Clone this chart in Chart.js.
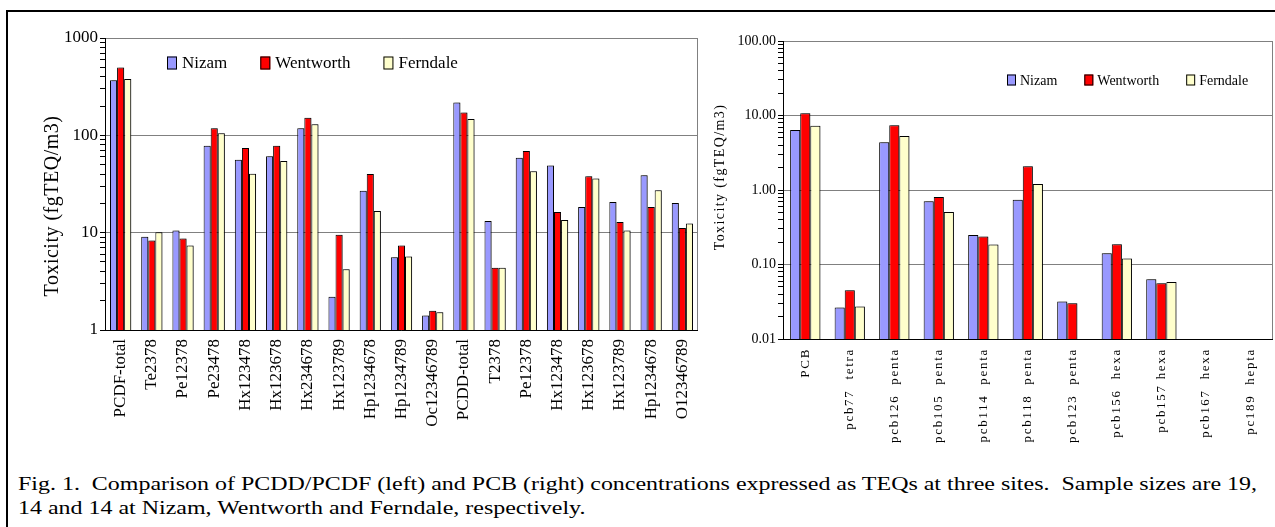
<!DOCTYPE html>
<html>
<head>
<meta charset="utf-8">
<script src="https://cdn.jsdelivr.net/npm/chart.js@4.4.1/dist/chart.umd.min.js"></script>
<style>
  html, body { margin:0; padding:0; background:#fff; width:1275px; height:527px; overflow:hidden; }
  #frame { position:absolute; left:6px; top:10px; width:1300px; height:600px; border-left:2px solid #000; border-top:2px solid #000; }
  #leftWrap { position:absolute; left:0; top:0; width:712px; height:450px; }
  #rightWrap { position:absolute; left:700px; top:0; width:575px; height:450px; }
  #caption { position:absolute; left:18px; top:472px; font-family:"Liberation Serif", "Times New Roman", Times, "DejaVu Serif", serif; font-size:18px; line-height:24px; color:#000; white-space:nowrap; transform-origin:0 0; }
</style>
</head>
<body>
<div id="frame"></div>
<div id="leftWrap"><canvas id="left"></canvas></div>
<div id="rightWrap"><canvas id="right"></canvas></div>
<div id="caption"><span id="capLine1">Fig. 1.&nbsp; Comparison of PCDD/PCDF (left) and PCB (right) concentrations expressed as TEQs at three sites.&nbsp; Sample sizes are 19,</span><br><span>14 and 14 at Nizam, Wentworth and Ferndale, respectively.</span></div>
<script>
// ---------- DATA ----------
const seriesNames = ["Nizam", "Wentworth", "Ferndale"];

const leftCategories = ["PCDF-total","Te2378","Pe12378","Pe23478","Hx123478","Hx123678","Hx234678","Hx123789","Hp1234678","Hp1234789","Oc12346789","PCDD-total","T2378","Pe12378","Hx123478","Hx123678","Hx123789","Hp1234678","O12346789"];
const leftNizam     = [367, 9.1, 10.5, 78, 56, 61, 118, 2.2, 27, 5.6, 1.41, 217, 13.2, 59, 49, 18.4, 20.7, 39, 20.2];
const leftWentworth = [497, 8.3, 8.7, 118, 74, 78, 152, 9.5, 40, 7.4, 1.58, 172, 4.35, 69, 16.3, 38, 12.9, 18.4, 11.2];
const leftFerndale  = [380, 10.1, 7.4, 105, 40.4, 54.6, 130, 4.2, 16.7, 5.7, 1.52, 147, 4.35, 42.7, 13.5, 36, 10.5, 27.2, 12.4];
const leftTicks = [1, 10, 100, 1000];

const rightCategories = ["PCB","pcb77  tetra","pcb126  penta","pcb105  penta","pcb114  penta","pcb118  penta","pcb123  penta","pcb156  hexa","pcb157 hexa","pcb167  hexa","pc189  hepta"];
const rightNizam     = [6.4, 0.0264, 4.36, 0.705, 0.249, 0.742, 0.0318, 0.142, 0.0635, null, null];
const rightWentworth = [10.7, 0.0452, 7.37, 0.806, 0.237, 2.08, 0.0303, 0.187, 0.0562, null, null];
const rightFerndale  = [7.28, 0.0273, 5.3, 0.507, 0.185, 1.2, null, 0.12, 0.058, null, null];
const rightTicks = [0.01, 0.1, 1, 10, 100];

const seriesColors = ["#9999FF", "#FF0000", "#FFFFCC"];
const SERIF = "'Liberation Serif', 'Times New Roman', Times, 'DejaVu Serif', serif";

// ---------- HELPERS ----------
function isMajor(v, majors) { return majors.some(m => Math.abs(v - m) / m < 1e-6); }
function logTicks(majors) {
  const out = [];
  for (let i = 0; i < majors.length; i++) {
    const d = majors[i];
    if (i === majors.length - 1) { out.push({value: d, major: true}); break; }
    for (let m = 1; m <= 9; m++) out.push({value: +(m * d).toPrecision(6), major: m === 1});
  }
  return out;
}
function makeDatasets(vals) {
  return vals.map((v, i) => ({
    label: seriesNames[i], data: v,
    backgroundColor: seriesColors[i], borderColor: "#000", borderWidth: 1,
    barPercentage: 1.0, categoryPercentage: 0.68
  }));
}

const shadowPlugin = {
  id: "barShadow",
  beforeDatasetsDraw(chart) {
    const ctx = chart.ctx;
    ctx.save();
    ctx.shadowColor = "rgba(0,0,0,0.35)";
    ctx.shadowOffsetX = 2; ctx.shadowOffsetY = 0; ctx.shadowBlur = 0;
  },
  afterDatasetsDraw(chart) { chart.ctx.restore(); }
};

const legendPlugin = {
  id: "inLegend",
  afterDraw(chart, args, o) {
    const ctx = chart.ctx, ca = chart.chartArea;
    ctx.save();
    ctx.font = o.font;
    ctx.textBaseline = "middle";
    ctx.textAlign = "left";
    let x = ca.left + o.dx;
    const y = ca.top + o.dy;
    chart.data.datasets.forEach(ds => {
      ctx.fillStyle = ds.backgroundColor;
      ctx.fillRect(x, y - o.bh / 2, o.bw, o.bh);
      ctx.strokeStyle = "#000"; ctx.lineWidth = 1;
      ctx.strokeRect(x + 0.5, y - o.bh / 2 + 0.5, o.bw - 1, o.bh - 1);
      x += o.bw + o.gap1;
      ctx.fillStyle = "#000";
      ctx.fillText(ds.label, x, y + 1);
      x += ctx.measureText(ds.label).width + o.gap2;
    });
    ctx.restore();
  }
};

const framePlugin = {
  id: "plotFrame",
  afterDatasetsDraw(chart) {
    const ctx = chart.ctx, ca = chart.chartArea;
    ctx.save();
    ctx.shadowColor = "rgba(0,0,0,0)";
    ctx.strokeStyle = "#808080"; ctx.lineWidth = 1;
    ctx.beginPath();
    ctx.moveTo(Math.round(ca.right) - 0.5, ca.top);
    ctx.lineTo(Math.round(ca.right) - 0.5, ca.bottom);
    ctx.stroke();
    ctx.restore();
  }
};

const spacingPlugin = {
  id: "spacing",
  beforeDraw(chart, args, o) {
    const sx = chart.scales.x, sy = chart.scales.y;
    if (!sx._sp) {
      const f = sx.drawLabels;
      sx.drawLabels = function (a) { const c = this.ctx; c.save(); if (o.x) c.letterSpacing = o.x; f.call(this, a); c.restore(); };
      sx._sp = true;
    }
    if (!sy._sp) {
      const g = sy.drawTitle;
      sy.drawTitle = function () { const c = this.ctx; c.save(); if (o.yTitle) c.letterSpacing = o.yTitle; c.translate(0, o.titleDy || 0); g.call(this); c.restore(); };
      sy._sp = true;
    }
  }
};

function makeChart(id, cats, vals, majors, cfg) {
  return new Chart(document.getElementById(id), {
    type: "bar",
    data: { labels: cats, datasets: makeDatasets(vals) },
    plugins: [shadowPlugin, legendPlugin, framePlugin, spacingPlugin],
    options: {
      responsive: true, maintainAspectRatio: false, animation: false,
      devicePixelRatio: 1,
      layout: { padding: { top: cfg.padTop, right: cfg.padRight, left: 0, bottom: 0 } },
      plugins: {
        legend: { display: false }, tooltip: { enabled: false },
        inLegend: cfg.legend,
        spacing: cfg.spacing
      },
      scales: {
        x: {
          type: "category",
          grid: { display: false, drawTicks: false },
          border: { display: true, color: "#000", width: 1 },
          ticks: { autoSkip: false, maxRotation: 90, minRotation: 90, padding: cfg.xPad,
                   color: "#000", font: { family: SERIF, size: cfg.xFont } },
          afterFit: s => { s.height = cfg.xHeight; }
        },
        y: {
          type: "logarithmic", min: majors[0], max: majors[majors.length - 1],
          afterBuildTicks: s => { s.ticks = logTicks(majors); },
          afterFit: s => { s.width = cfg.yWidth; },
          grid: {
            drawOnChartArea: true, drawTicks: true, tickLength: 5,
            color: c => (c.tick && isMajor(c.tick.value, majors)) ? "#808080" : "rgba(0,0,0,0)",
            tickColor: "#000", lineWidth: 1
          },
          border: { display: true, color: "#000", width: 1 },
          ticks: {
            autoSkip: false, padding: 2, color: "#000",
            font: { family: SERIF, size: cfg.yFont },
            callback: v => isMajor(v, majors) ? cfg.fmt(v) : ""
          },
          title: { display: true, text: cfg.yTitle, color: "#000",
                   font: { family: SERIF, size: cfg.yTitleFont },
                   padding: { top: cfg.yTitlePad, bottom: 0 } }
        }
      }
    }
  });
}

makeChart("left", leftCategories, [leftNizam, leftWentworth, leftFerndale], leftTicks, {
  padTop: 38, padRight: 9, yWidth: 105, xHeight: 120, xPad: 9, xFont: 17, yFont: 17,
  fmt: v => String(v),
  yTitle: "Toxicity (fgTEQ/m3)", yTitleFont: 20, yTitlePad: 41,
  legend: { font: "17px " + SERIF, dx: 62, dy: 25, bw: 10, bh: 13, gap1: 5, gap2: 33 },
  spacing: { yTitle: "0.5px", titleDy: 22 }
});

makeChart("right", rightCategories, [rightNizam, rightWentworth, rightFerndale], rightTicks, {
  padTop: 41, padRight: 1, yWidth: 83, xHeight: 111, xPad: 9, xFont: 13, yFont: 14,
  fmt: v => v.toFixed(2),
  yTitle: "Toxicity (fgTEQ/m3)", yTitleFont: 14, yTitlePad: 12,
  legend: { font: "14px " + SERIF, dx: 224, dy: 39, bw: 9, bh: 11, gap1: 4, gap2: 27 },
  spacing: { x: "1.7px", yTitle: "1.4px", titleDy: -13 }
});

// fit caption line width to the reference width
const capW = document.getElementById("capLine1").getBoundingClientRect().width;
document.getElementById("caption").style.transform = "scaleX(" + (1239 / capW) + ")";
</script>
</body>
</html>
